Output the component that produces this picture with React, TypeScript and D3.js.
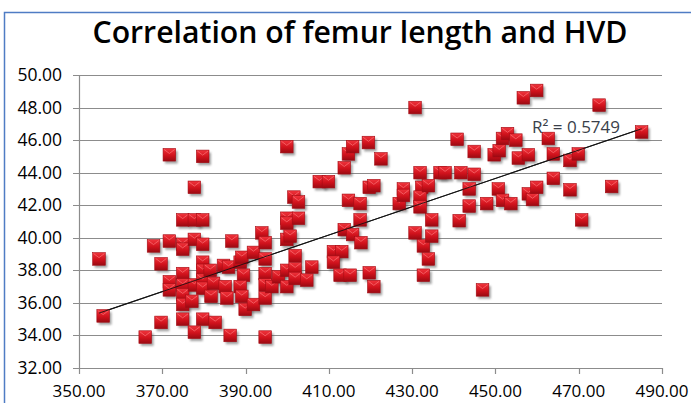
import React, { useEffect, useRef } from "react";
import * as d3 from "d3";

// femur length (x) and HVD (y)
const femurLength = [
  354.8, 355.8, 365.9, 367.9, 369.7, 369.7, 371.7, 371.7, 371.7, 371.7,
  374.9, 374.9, 374.9, 374.9, 374.9, 374.9, 374.9, 374.9, 377.1, 377.7,
  377.7, 377.7, 377.7, 377.7, 379.7, 379.7, 379.7, 379.7, 379.7, 379.7,
  379.7, 379.7, 381.5, 381.7, 382.3, 382.7, 384.7, 385.1, 385.5, 386.3,
  386.7, 385.9, 388.7, 389.1, 389.5, 388.7, 389.1, 389.9, 391.9, 391.9,
  393.9, 394.7, 394.7, 394.7, 394.7, 394.7, 394.7, 396.3, 397.9, 399.9,
  399.9, 399.9, 399.9, 400.7, 399.9, 399.9, 401.6, 402.7, 402.7, 401.9,
  401.9, 401.9, 404.7, 405.9, 407.7, 409.9, 411.1, 413.1, 411.1, 412.7,
  413.7, 413.7, 414.7, 415.7, 414.7, 415.1, 415.7, 417.5, 417.5, 417.7,
  419.5, 419.7, 420.8, 419.7, 420.8, 422.5,
  426.9, 427.9, 427.9, 430.7, 430.7, 431.9, 432.3, 431.9, 431.9, 432.7,
  432.7, 433.9, 433.9, 434.7, 434.7, 436.7, 437.9, 440.8, 441.7, 441.3,
  443.7, 443.7, 444.9, 444.9, 446.9, 447.9, 449.7, 450.7, 450.9, 451.7,
  451.7, 452.9, 453.7, 454.9, 455.5, 456.7, 457.9, 457.9, 458.9, 459.9,
  459.9, 462.7, 463.9, 463.9, 467.9, 467.9, 469.9, 470.7, 474.9, 477.9,
  485.1,
];
const hvd = [
  38.7, 35.2, 33.9, 39.5, 38.4, 34.8, 45.1, 39.8, 37.3, 36.8,
  41.1, 39.6, 39.3, 37.8, 37.1, 36.5, 35.9, 35.0, 36.1, 43.1,
  41.1, 39.9, 37.1, 34.2, 45.0, 41.1, 39.6, 38.5, 38.0, 37.4,
  36.9, 35.0, 38.0, 36.4, 37.2, 34.8, 38.3, 37.0, 36.3, 34.0,
  39.8, 38.2, 38.5, 38.8, 37.7, 37.0, 36.4, 35.6, 39.1, 35.9,
  40.3, 39.7, 38.7, 37.8, 37.1, 36.3, 33.9, 37.0, 37.6, 45.6,
  41.2, 40.9, 39.9, 40.1, 38.0, 37.0, 42.5, 42.2, 41.2, 38.9,
  38.1, 37.5, 37.4, 38.2, 43.45, 43.45, 39.15, 39.15, 38.5, 37.7,
  44.3, 40.5, 45.15, 45.6, 42.3, 37.7, 40.2, 42.1, 41.1, 39.7,
  45.85, 43.1, 43.2, 37.85, 37.0, 44.85,
  42.1, 43.0, 42.6, 48.0, 40.3, 44.0, 43.1, 42.5, 41.9, 39.5,
  37.7, 43.2, 38.7, 41.1, 40.1, 44.0, 44.0, 46.05, 44.0, 41.05,
  43.0, 41.95, 45.3, 43.9, 36.8, 42.1, 45.1, 43.0, 45.35, 46.1,
  42.3, 46.4, 42.1, 46.0, 44.9, 48.6, 45.1, 42.7, 42.35, 49.05,
  43.1, 46.1, 45.15, 43.65, 44.75, 42.95, 45.15, 41.1, 48.15, 43.15,
  46.5,
];

// linear trendline as shown in the reference (Excel fit)
const trendSlope = 0.0869;
const trendIntercept = 4.54;

const xTicks = [350, 370, 390, 410, 430, 450, 470, 490];
const yTicks = [32, 34, 36, 38, 40, 42, 44, 46, 48, 50];
const chartTitle = "Correlation of femur length and HVD";
const rSquaredLabel = "R\u00b2 = 0.5749";

function App() {
  const svgRef = useRef<SVGSVGElement>(null);

  useEffect(() => {
    const width = 691;
    const height = 403;
    const plot = { left: 79, right: 662, top: 75, bottom: 368 };
    const font = "'Open Sans', sans-serif";

    const svg = d3.select(svgRef.current);
    svg.selectAll("*").remove();

    const defs = svg.append("defs");
    const grad = defs.append("linearGradient")
      .attr("id", "marker-fill")
      .attr("x1", 0).attr("y1", 0).attr("x2", 0).attr("y2", 1);
    grad.append("stop").attr("offset", "0%").attr("stop-color", "#f0343c");
    grad.append("stop").attr("offset", "55%").attr("stop-color", "#d0121c");
    grad.append("stop").attr("offset", "100%").attr("stop-color", "#9a0a12");

    defs.append("filter")
      .attr("id", "shadow-blur")
      .attr("x", "-50%").attr("y", "-50%").attr("width", "200%").attr("height", "200%")
      .append("feGaussianBlur")
      .attr("stdDeviation", 1.3);

    svg.append("rect")
      .attr("width", width)
      .attr("height", height)
      .attr("fill", "#ffffff");

    // chart border (only top and left edges are visible)
    svg.append("path")
      .attr("d", `M4.5,${height} V12.5 H${width}`)
      .attr("fill", "none")
      .attr("stroke", "#4f7cc4")
      .attr("stroke-width", 1.5);

    svg.append("text")
      .attr("x", 360)
      .attr("y", 43)
      .attr("text-anchor", "middle")
      .attr("font-family", font)
      .attr("font-weight", 600)
      .attr("font-size", 31)
      .attr("fill", "#000")
      .attr("textLength", 535)
      .attr("lengthAdjust", "spacingAndGlyphs")
      .text(chartTitle);

    const x = d3.scaleLinear().domain([350, 490]).range([plot.left, plot.right]);
    const y = d3.scaleLinear().domain([32, 50]).range([plot.bottom, plot.top]);

    // horizontal gridlines
    svg.append("g")
      .selectAll("line")
      .data(yTicks)
      .join("line")
      .attr("x1", plot.left - 6)
      .attr("x2", plot.right)
      .attr("y1", (d) => Math.round(y(d)) + 0.5)
      .attr("y2", (d) => Math.round(y(d)) + 0.5)
      .attr("stroke", "#8c8c8c")
      .attr("stroke-width", 1.2);

    // y axis line
    svg.append("line")
      .attr("x1", plot.left + 0.5).attr("x2", plot.left + 0.5)
      .attr("y1", plot.top).attr("y2", plot.bottom)
      .attr("stroke", "#8c8c8c").attr("stroke-width", 1.2);

    // x axis ticks
    svg.append("g")
      .selectAll("line")
      .data(xTicks)
      .join("line")
      .attr("x1", (d) => Math.round(x(d)) + 0.5)
      .attr("x2", (d) => Math.round(x(d)) + 0.5)
      .attr("y1", plot.bottom)
      .attr("y2", plot.bottom + 6)
      .attr("stroke", "#8c8c8c")
      .attr("stroke-width", 1.2);

    svg.append("g")
      .selectAll("text")
      .data(yTicks)
      .join("text")
      .attr("x", 62)
      .attr("y", (d) => y(d) + 6)
      .attr("text-anchor", "end")
      .attr("font-family", font)
      .attr("font-size", 17.5)
      .attr("fill", "#000")
      .text((d) => d.toFixed(2));

    svg.append("g")
      .selectAll("text")
      .data(xTicks)
      .join("text")
      .attr("x", (d) => x(d))
      .attr("y", 397)
      .attr("text-anchor", "middle")
      .attr("font-family", font)
      .attr("font-size", 17)
      .attr("fill", "#000")
      .text((d) => d.toFixed(2));

    const points = femurLength.map((fl, i) => ({ fl, hvd: hvd[i] }));
    const s = 6.3;

    // soft drop shadows under the markers
    svg.append("g")
      .selectAll("rect")
      .data(points)
      .join("rect")
      .attr("x", (d) => x(d.fl) - s + 2)
      .attr("y", (d) => y(d.hvd) - s + 2.5)
      .attr("width", 2 * s)
      .attr("height", 2 * s)
      .attr("fill", "#555")
      .attr("opacity", 0.55)
      .attr("filter", "url(#shadow-blur)");

    // trendline sits below the markers
    const [x0, x1] = d3.extent(femurLength) as [number, number];
    svg.append("line")
      .attr("x1", x(x0)).attr("y1", y(trendIntercept + trendSlope * x0))
      .attr("x2", x(x1)).attr("y2", y(trendIntercept + trendSlope * x1))
      .attr("stroke", "#111")
      .attr("stroke-width", 1.1);

    const markers = svg.append("g")
      .selectAll("g")
      .data(points)
      .join("g")
      .attr("transform", (d) => `translate(${x(d.fl)},${y(d.hvd)})`);

    markers.append("rect")
      .attr("x", -s).attr("y", -s)
      .attr("width", 2 * s).attr("height", 2 * s)
      .attr("fill", "url(#marker-fill)")
      .attr("stroke", "#a40c14")
      .attr("stroke-width", 0.6);
    // bevel notch at the top
    markers.append("path")
      .attr("d", `M${-s + 1},${-s + 1} L0,${-s + 5} L${s - 1},${-s + 1}`)
      .attr("fill", "none")
      .attr("stroke", "#ff7a7e")
      .attr("stroke-width", 0.8)
      .attr("opacity", 0.8);

    // Excel draws the trendline over the series; redraw a faint copy on top
    svg.append("line")
      .attr("x1", x(x0)).attr("y1", y(trendIntercept + trendSlope * x0))
      .attr("x2", x(x1)).attr("y2", y(trendIntercept + trendSlope * x1))
      .attr("stroke", "#111")
      .attr("stroke-width", 1)
      .attr("opacity", 0.85);

    svg.append("text")
      .attr("x", 532)
      .attr("y", 133)
      .attr("font-family", font)
      .attr("font-size", 17)
      .attr("fill", "#3a3f4a")
      .text(rSquaredLabel);
  }, []);

  return (
    <svg
      ref={svgRef}
      width={691}
      height={403}
      style={{ position: "absolute", left: 0, top: 0 }}
    />
  );
}

export default App;
